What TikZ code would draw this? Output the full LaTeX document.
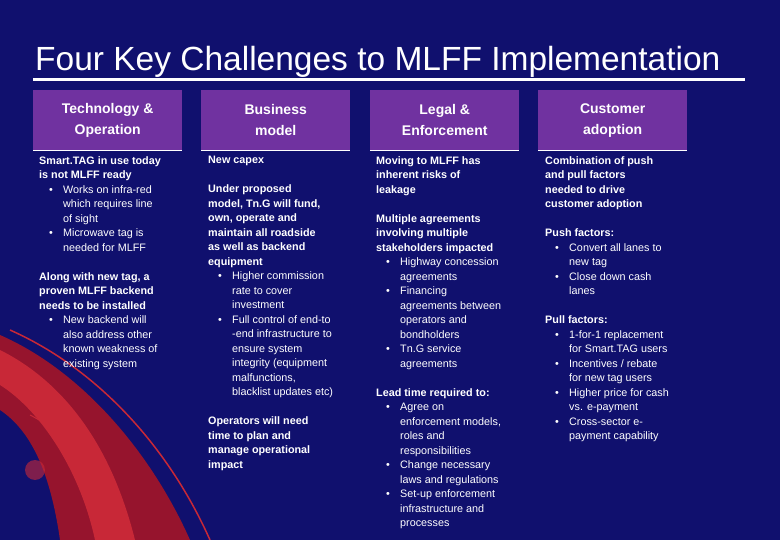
\documentclass[tikz,border=0pt]{standalone}
\usepackage{fontspec}
\setmainfont{Liberation Sans}
\definecolor{slidebg}{RGB}{16,16,110}
\definecolor{headpurple}{RGB}{112,50,160}
\definecolor{swoosh}{RGB}{150,20,45}
\definecolor{swooshlight}{RGB}{200,40,55}
\newcommand{\hd}[1]{\textbf{#1}}
\newcommand{\bl}[1]{\hspace*{10pt}\makebox[14pt][l]{\textbullet}#1}
\newcommand{\ct}[1]{\hspace*{24pt}#1}
\begin{document}
\begin{tikzpicture}
  [x=1pt, y=-1pt,
  header/.style={rectangle, fill=headpurple, text=white, minimum width=149pt, minimum height=60pt,
    anchor=north west, align=center, font=\fontsize{14}{21}\selectfont\bfseries},
  body/.style={anchor=north west, align=left, text=white, inner sep=0pt,
    font=\fontsize{10.8}{14.5}\selectfont},
  rule/.style={draw=white, line width=2.5pt}]
  % background
  \fill [slidebg] (0,0) rectangle (780,540);
  \useasboundingbox (0,0) rectangle (780,540);
  % red swoosh
  \fill [swoosh] (0,335) .. controls (80,370) and (150,450) .. (190,540) -- (60,540)
    .. controls (50,470) and (30,430) .. (0,410) -- cycle;
  \fill [swooshlight] (0,350) .. controls (60,380) and (110,440) .. (135,540) -- (95,540)
    .. controls (80,470) and (40,410) .. (0,385) -- cycle;
  \draw [swooshlight, line width=1.5pt] (10,330) .. controls (100,370) and (170,450) .. (210,540);
  \draw [swooshlight, line width=1pt] (30,415) .. controls (80,440) and (100,490) .. (110,540);
  \fill [swooshlight, opacity=0.6] (35,470) circle (10);
  % title
  \node [anchor=base west, text=white, font=\fontsize{33.5}{36}\selectfont, inner sep=0pt]
    (title) at (35,71) {Four Key Challenges to MLFF Implementation};
  \coordinate (tl) at (33,80);
  \coordinate (tr) at (745,80);
  \draw [rule, line width=3pt] (tl) -- (tr);
  % headers
  \node [header] (h1) at (33,90) {Technology \&\\Operation};
  \node [header] (h2) at (201,90) {Business\\model};
  \node [header] (h3) at (370,90) {Legal \&\\Enforcement};
  \node [header] (h4) at (538,90) {Customer\\adoption};
  \foreach \h in {h1,h2,h3,h4}
    \draw [rule, line width=1.5pt] (\h.south west) -- (\h.south east);
  % columns
  \node [body] (c1) at (39,156) {\hd{Smart.TAG in use today}\\\hd{is not MLFF ready}\\
    \bl{Works on infra-red}\\\ct{which requires line}\\\ct{of sight}\\
    \bl{Microwave tag is}\\\ct{needed for MLFF}\\[14.5pt]
    \hd{Along with new tag, a}\\\hd{proven MLFF backend}\\\hd{needs to be installed}\\
    \bl{New backend will}\\\ct{also address other}\\\ct{known weakness of}\\\ct{existing system}};
  \node [body] (c2) at (208,156) {\hd{New capex}\\[14.5pt]
    \hd{Under proposed}\\\hd{model, Tn.G will fund,}\\\hd{own, operate and}\\
    \hd{maintain all roadside}\\\hd{as well as backend}\\\hd{equipment}\\
    \bl{Higher commission}\\\ct{rate to cover}\\\ct{investment}\\
    \bl{Full control of end-to}\\\ct{-end infrastructure to}\\\ct{ensure system}\\
    \ct{integrity (equipment}\\\ct{malfunctions,}\\\ct{blacklist updates etc)}\\[14.5pt]
    \hd{Operators will need}\\\hd{time to plan and}\\\hd{manage operational}\\\hd{impact}};
  \node [body] (c3) at (376,156) {\hd{Moving to MLFF has}\\\hd{inherent risks of}\\\hd{leakage}\\[14.5pt]
    \hd{Multiple agreements}\\\hd{involving multiple}\\\hd{stakeholders impacted}\\
    \bl{Highway concession}\\\ct{agreements}\\
    \bl{Financing}\\\ct{agreements between}\\\ct{operators and}\\\ct{bondholders}\\
    \bl{Tn.G service}\\\ct{agreements}\\[14.5pt]
    \hd{Lead time required to:}\\
    \bl{Agree on}\\\ct{enforcement models,}\\\ct{roles and}\\\ct{responsibilities}\\
    \bl{Change necessary}\\\ct{laws and regulations}\\
    \bl{Set-up enforcement}\\\ct{infrastructure and}\\\ct{processes}};
  \node [body] (c4) at (545,156) {\hd{Combination of push}\\\hd{and pull factors}\\
    \hd{needed to drive}\\\hd{customer adoption}\\[14.5pt]
    \hd{Push factors:}\\
    \bl{Convert all lanes to}\\\ct{new tag}\\
    \bl{Close down cash}\\\ct{lanes}\\[14.5pt]
    \hd{Pull factors:}\\
    \bl{1-for-1 replacement}\\\ct{for Smart.TAG users}\\
    \bl{Incentives / rebate}\\\ct{for new tag users}\\
    \bl{Higher price for cash}\\\ct{vs. e-payment}\\
    \bl{Cross-sector e-}\\\ct{payment capability}};
\end{tikzpicture}
\end{document}
